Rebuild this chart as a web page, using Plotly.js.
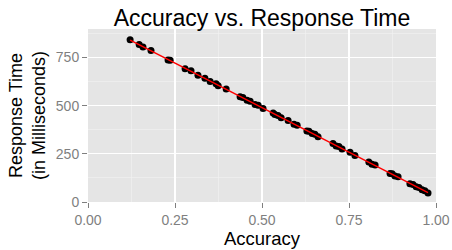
<!DOCTYPE html>
<html>
<head>
<meta charset="utf-8">
<script src="https://cdn.plot.ly/plotly-3.0.1.min.js"></script>
<style>html,body{margin:0;padding:0;background:#fff;}#chart{width:452px;height:250px;}</style>
</head>
<body>
<div id="chart"></div>
<script>
const accuracy = [0.121,0.147,0.158,0.181,0.230,0.236,0.279,0.296,0.316,0.336,0.351,0.368,0.374,0.397,0.437,0.445,0.457,0.466,0.480,0.489,0.503,0.532,0.537,0.546,0.555,0.575,0.592,0.601,0.629,0.635,0.644,0.652,0.661,0.704,0.713,0.721,0.730,0.753,0.767,0.807,0.816,0.825,0.868,0.874,0.882,0.891,0.925,0.934,0.943,0.951,0.960,0.968,0.977];
const responseTime = [842,818,804,787,737,736,692,681,658,643,626,614,604,587,546,543,528,523,506,502,485,462,454,449,437,423,403,399,369,367,355,352,339,304,291,288,275,258,241,208,196,192,148,146,135,131,95,91,79,75,63,59,47];
const xTicks = [0, 0.25, 0.5, 0.75, 1];
const xTickLabels = ["0.00","0.25","0.50","0.75","1.00"];
const yTicks = [0, 250, 500, 750];
const yTickLabels = ["0","250","500","750"];

// least-squares fit line computed from data
const n = accuracy.length;
const mx = accuracy.reduce((a,b)=>a+b,0)/n;
const my = responseTime.reduce((a,b)=>a+b,0)/n;
let sxy=0, sxx=0;
for (let i=0;i<n;i++){ sxy += (accuracy[i]-mx)*(responseTime[i]-my); sxx += (accuracy[i]-mx)**2; }
const slope = sxy/sxx, intercept = my - slope*mx;
const xmin = Math.min(...accuracy), xmax = Math.max(...accuracy);
const fitX = [xmin, xmax];
const fitY = fitX.map(v => intercept + slope*v);

const font = "Liberation Sans, Arial, Helvetica, sans-serif";
const data = [
  {x: accuracy, y: responseTime, mode: 'markers', type: 'scatter',
   marker: {color: '#000', size: 7}, hoverinfo: 'skip'},
  {x: fitX, y: fitY, mode: 'lines', type: 'scatter',
   line: {color: '#FF0000', width: 1.5}, hoverinfo: 'skip'}
];
const layout = {
  width: 452, height: 250,
  margin: {l: 88, r: 16, t: 29, b: 48},
  paper_bgcolor: '#FFFFFF', plot_bgcolor: '#E5E5E5',
  showlegend: false,
  font: {family: font},
  title: {text: 'Accuracy vs. Response Time', font: {size: 23, color: '#000', family: font},
          x: 0.5, xref: 'paper', y: 0.93, yref: 'container', yanchor: 'middle'},
  xaxis: {range: [0, 1], tickvals: xTicks, ticktext: xTickLabels,
          ticks: 'outside', ticklen: 5, tickcolor: '#7F7F7F', tickwidth: 1,
          tickfont: {size: 14, color: '#7F7F7F'},
          showgrid: true, gridcolor: '#FFFFFF', gridwidth: 1.2,
          minor: {dtick: 0.125, tick0: 0.125, showgrid: true, gridcolor: '#F2F2F2', gridwidth: 0.6, ticks: ''},
          zeroline: false, showline: false,
          title: {text: 'Accuracy', font: {size: 18.5, color: '#000'}, standoff: 1}},
  yaxis: {range: [0, 898], tickvals: yTicks, ticktext: yTickLabels,
          ticks: 'outside', ticklen: 5, tickcolor: '#7F7F7F', tickwidth: 1,
          tickfont: {size: 14, color: '#7F7F7F'},
          showgrid: true, gridcolor: '#FFFFFF', gridwidth: 1.2,
          minor: {dtick: 125, tick0: 125, showgrid: true, gridcolor: '#F2F2F2', gridwidth: 0.6, ticks: ''},
          zeroline: false, showline: false,
          title: {text: 'Response Time<br>(in Milliseconds)', font: {size: 18, color: '#000'}, standoff: 5}}
};
Plotly.newPlot('chart', data, layout, {staticPlot: true, displayModeBar: false});
</script>
</body>
</html>
